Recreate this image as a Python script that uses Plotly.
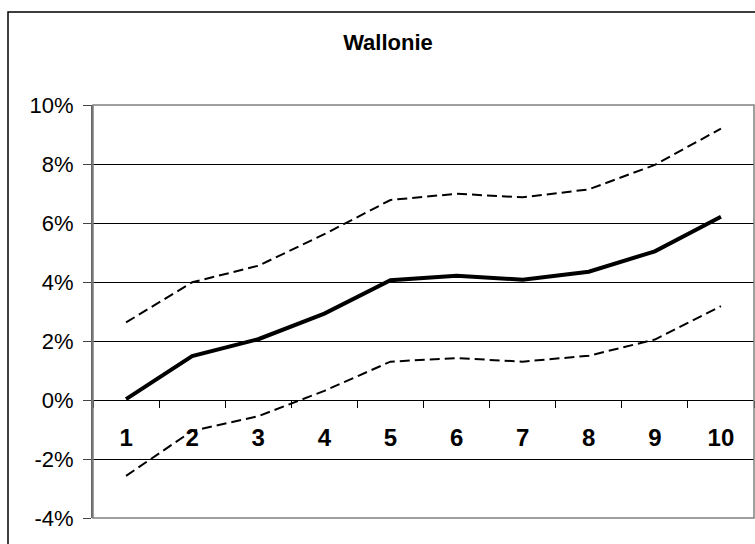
import plotly.graph_objects as go

categories = ["1", "2", "3", "4", "5", "6", "7", "8", "9", "10"]
central = [0.03, 1.49, 2.06, 2.93, 4.06, 4.21, 4.08, 4.35, 5.04, 6.21]
upper = [2.63, 3.99, 4.55, 5.62, 6.78, 6.99, 6.87, 7.14, 7.97, 9.20]
lower = [-2.57, -1.05, -0.55, 0.31, 1.30, 1.42, 1.30, 1.50, 2.05, 3.18]
y_tick_vals = [-4, -2, 0, 2, 4, 6, 8, 10]
y_tick_text = ["-4%", "-2%", "0%", "2%", "4%", "6%", "8%", "10%"]
title_text = "Wallonie"

FONT = "Liberation Sans, Arial, sans-serif"

fig = go.Figure()
fig.add_trace(go.Scatter(x=categories, y=upper, mode="lines",
                         line=dict(color="black", width=2, dash="10px,5px"),
                         showlegend=False, hoverinfo="skip"))
fig.add_trace(go.Scatter(x=categories, y=lower, mode="lines",
                         line=dict(color="black", width=2, dash="10px,5px"),
                         showlegend=False, hoverinfo="skip"))
fig.add_trace(go.Scatter(x=categories, y=central, mode="lines",
                         line=dict(color="black", width=4),
                         showlegend=False, hoverinfo="skip"))

fig.update_layout(
    width=755, height=544,
    margin=dict(l=93, r=1, t=105, b=26, autoexpand=False),
    paper_bgcolor="white", plot_bgcolor="white",
    font=dict(family=FONT, color="black"),
    title=dict(text="<b>" + title_text + "</b>", font=dict(family=FONT, size=22, color="black"),
               x=(388 - 93) / 661, xref="paper", xanchor="center",
               y=1 - 42 / 544, yref="container", yanchor="middle"),
    xaxis=dict(type="category", categoryorder="array", categoryarray=categories,
               range=[-0.5, 9.5], anchor="free", position=4 / 14,
               showline=True, linecolor="black", linewidth=1,
               ticks="outside", tickson="boundaries", ticklen=7, tickcolor="black", tickwidth=1,
               showgrid=False, zeroline=False,
               tickfont=dict(family=FONT, size=24, color="black", weight="bold"),
               ticklabelstandoff=16),
    yaxis=dict(range=[-4, 10], tickmode="array", tickvals=y_tick_vals, ticktext=y_tick_text,
               showline=True, linecolor="#666666", linewidth=2,
               ticks="outside", ticklen=8, tickcolor="#444444", tickwidth=1,
               showgrid=True, gridcolor="black", gridwidth=1, zeroline=False,
               tickfont=dict(family=FONT, size=22, color="black"),
               ticklabelstandoff=5),
    shapes=[
        dict(type="rect", xref="paper", yref="paper", x0=0, x1=1, y0=0, y1=1,
             line=dict(color="#808080", width=1.5), layer="above"),
        dict(type="rect", xref="paper", yref="paper",
             x0=(8 - 93) / 661, x1=1.2, y0=-0.2, y1=1 + (105 - 12) / 413,
             line=dict(color="black", width=1.5), layer="above"),
    ],
)

fig.write_html("out.html",
               config={"displayModeBar": False},
               post_script="document.body.style.margin='0';document.body.style.overflow='hidden';")
